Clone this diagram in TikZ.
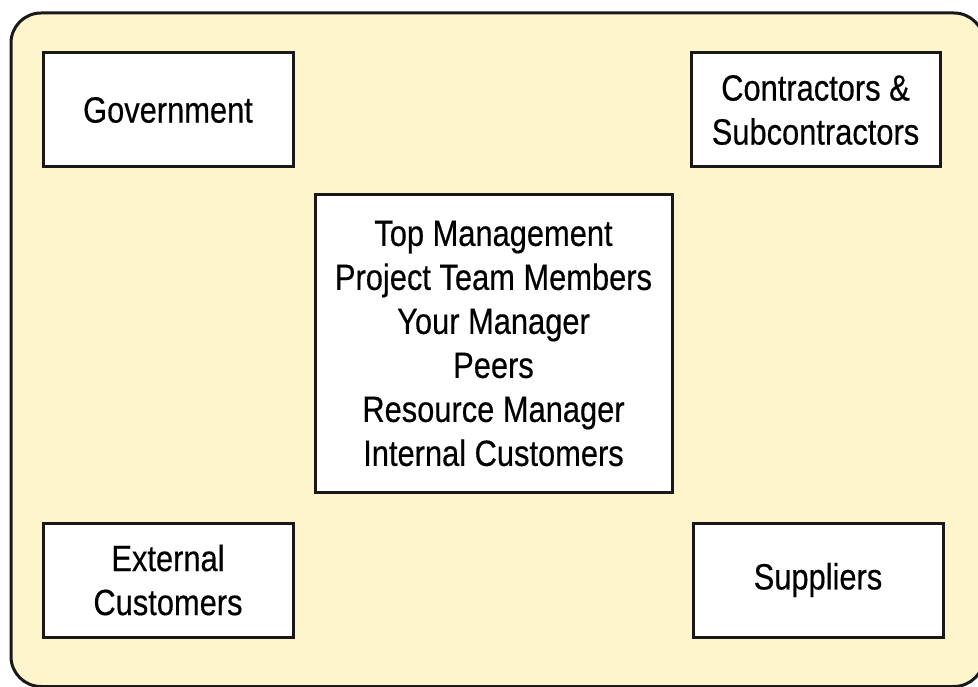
\documentclass[tikz,border=0pt]{standalone}
\usepackage{fontspec}
\setmainfont[FakeStretch=0.845,FakeBold=0.4]{Liberation Sans}
\definecolor{bgyellow}{RGB}{255,245,204}
\definecolor{edge}{RGB}{25,25,25}
\tikzset{
  entity/.style={draw=edge, line width=3pt, fill=white, align=center,
    inner sep=0pt, minimum width=250pt, minimum height=114pt,
    font=\fontsize{36.5}{44}\selectfont, text=black},
  frame/.style={draw=edge, line width=3pt, fill=bgyellow, rounded corners=30pt}
}
\begin{document}
\begin{tikzpicture}[x=1pt,y=-1pt]
\useasboundingbox (0,0) rectangle (978,687);
\fill[white] (0,0) rectangle (978,687);
\begin{scope}
\clip (0,0) rectangle (978,687);
\draw[frame] (11,13) rectangle (984,686.5);
\end{scope}
\node[entity] (gov) at (168,110) {Government};
\node[entity, minimum width=249pt] (con) at (815.5,110) {Contractors \&\\Subcontractors};
\node[entity] (ext) at (168,580) {External\\Customers};
\node[entity] (sup) at (818,580) {Suppliers};
\node[entity, minimum width=357pt, minimum height=297pt] (core) at (493.5,343.5)
  {Top Management\\Project Team Members\\Your Manager\\Peers\\Resource Manager\\Internal Customers};
\end{tikzpicture}
\end{document}
